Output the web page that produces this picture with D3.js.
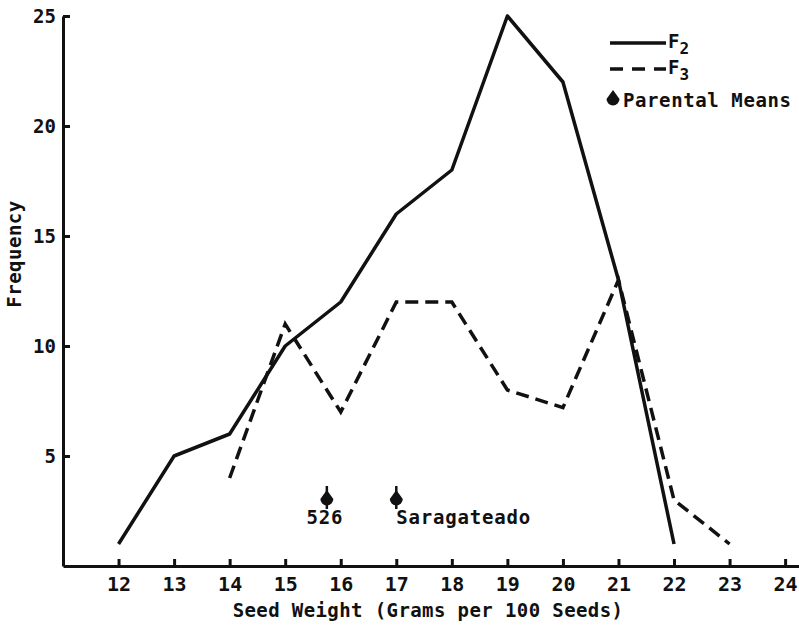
<!DOCTYPE html>
<html>
<head>
<meta charset="utf-8">
<script src="https://cdn.jsdelivr.net/npm/d3@7"></script>
<style>
  body { margin: 0; background: #fff; }
  text { font-family: "DejaVu Sans Mono", "Liberation Mono", monospace; font-weight: bold; fill: #111; }
</style>
</head>
<body>
<div id="chart"></div>
<script>
// seed weight classes (grams per 100 seeds)
const f2Weights = [12, 13, 14, 15, 16, 17, 18, 19, 20, 21, 22];
const f2Freq    = [1, 5, 6, 10, 12, 16, 18, 25, 22, 13, 1];
const f3Weights = [14, 15, 16, 17, 18, 19, 20, 21, 22, 23];
const f3Freq    = [4, 11, 7, 12, 12, 8, 7.2, 13, 3, 1];
const meanNames   = ["526", "Saragateado"];
const meanWeights = [15.75, 17];
const meanFreq    = [3, 3];
const xTicks = [12, 13, 14, 15, 16, 17, 18, 19, 20, 21, 22, 23, 24];
const yTicks = [5, 10, 15, 20, 25];

const width = 799, height = 626;

const x = d3.scaleLinear().domain([11, 24.25]).range([63, 799]);
const y = d3.scaleLinear().domain([0, 25]).range([566, 16]);

const svg = d3.select("#chart").append("svg")
    .attr("width", width)
    .attr("height", height);

// axes
const xAxis = svg.append("g")
    .attr("transform", "translate(0," + y(0) + ")")
    .call(d3.axisBottom(x).tickValues(xTicks).tickSizeInner(-7).tickSizeOuter(0).tickPadding(11));
xAxis.selectAll("text").style("font-size", "20px");

const yAxis = svg.append("g")
    .attr("transform", "translate(" + x(11) + ",0)")
    .call(d3.axisLeft(y).tickValues(yTicks).tickSizeInner(-7).tickSizeOuter(0).tickPadding(7));
yAxis.selectAll("text").style("font-size", "19px");

svg.selectAll(".domain").attr("stroke", "#111").attr("stroke-width", 3);
svg.selectAll(".tick line").attr("stroke", "#111").attr("stroke-width", 3);
svg.selectAll(".tick text").attr("font-family", null);

// axis titles
svg.append("text")
    .attr("x", 428)
    .attr("y", 617)
    .attr("text-anchor", "middle")
    .style("font-size", "19px")
    .style("letter-spacing", "0.4px")
    .text("Seed Weight (Grams per 100 Seeds)");

svg.append("text")
    .attr("transform", "translate(21,254) rotate(-90)")
    .attr("text-anchor", "middle")
    .style("font-size", "19px")
    .style("letter-spacing", "0.5px")
    .text("Frequency");

// lines
const line = d3.line()
    .x(function(d) { return x(d[0]); })
    .y(function(d) { return y(d[1]); });

svg.append("path")
    .datum(d3.zip(f2Weights, f2Freq))
    .attr("d", line)
    .attr("fill", "none")
    .attr("stroke", "#111")
    .attr("stroke-width", 3.5)
    .attr("stroke-linejoin", "round");

svg.append("path")
    .datum(d3.zip(f3Weights, f3Freq))
    .attr("d", line)
    .attr("fill", "none")
    .attr("stroke", "#111")
    .attr("stroke-width", 3.5)
    .attr("stroke-dasharray", "13,7");

// parental mean marker: point on top, round bottom, stem through
const markerShape = "M0,-10 L6.5,-1 A6.5,6.5 0 1 1 -6.5,-1 Z";

function marker(g) {
  g.append("line")
      .attr("y1", -14).attr("y2", 9)
      .attr("stroke", "#111").attr("stroke-width", 2.5);
  g.append("path")
      .attr("d", markerShape)
      .attr("fill", "#111");
}

const means = svg.selectAll(".mean")
    .data(d3.zip(meanNames, meanWeights, meanFreq))
  .enter().append("g")
    .attr("class", "mean")
    .attr("transform", function(d) { return "translate(" + x(d[1]) + "," + y(d[2]) + ")"; });
means.call(marker);
means.append("text")
    .attr("y", 24)
    .attr("x", function(d, i) { return i === 0 ? -2 : 0; })
    .attr("text-anchor", function(d, i) { return i === 0 ? "middle" : "start"; })
    .style("font-size", "19px")
    .style("letter-spacing", "0.8px")
    .text(function(d) { return d[0]; });

// legend
const legend = svg.append("g");
legend.append("line")
    .attr("x1", 610).attr("x2", 666).attr("y1", 43).attr("y2", 43)
    .attr("stroke", "#111").attr("stroke-width", 3.5);
legend.append("line")
    .attr("x1", 610).attr("x2", 666).attr("y1", 69).attr("y2", 69)
    .attr("stroke", "#111").attr("stroke-width", 3.5)
    .attr("stroke-dasharray", "13,9");

const f2Label = legend.append("text").attr("x", 668).attr("y", 48).style("font-size", "19px");
f2Label.append("tspan").text("F");
f2Label.append("tspan").attr("dy", 6).style("font-size", "16px").text("2");

const f3Label = legend.append("text").attr("x", 668).attr("y", 74).style("font-size", "19px");
f3Label.append("tspan").text("F");
f3Label.append("tspan").attr("dy", 6).style("font-size", "16px").text("3");

legend.append("path")
    .attr("transform", "translate(613,100)")
    .attr("d", markerShape)
    .attr("fill", "#111");
legend.append("text")
    .attr("x", 623).attr("y", 107)
    .style("font-size", "19px")
    .style("letter-spacing", "0.6px")
    .text("Parental Means");
</script>
</body>
</html>
